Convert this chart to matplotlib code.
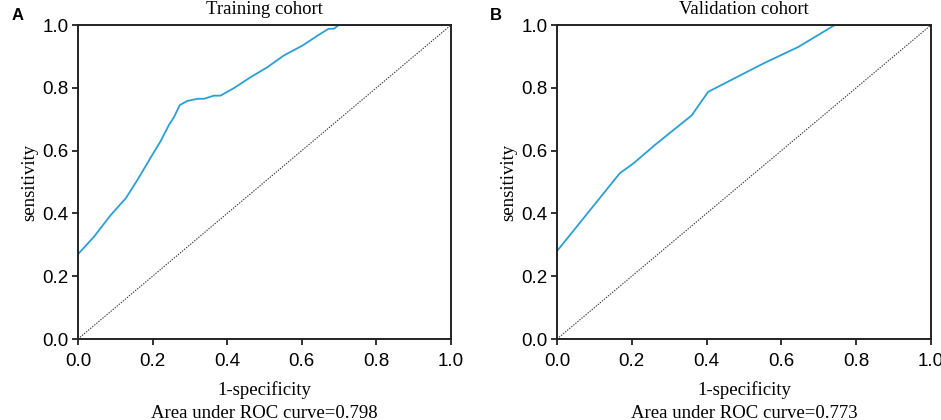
import numpy as np
import matplotlib
matplotlib.use("Agg")
import matplotlib.pyplot as plt

# ROC points
train_fpr = [0.0, 0.043, 0.088, 0.128, 0.159, 0.199, 0.221, 0.244, 0.257, 0.273,
             0.293, 0.320, 0.338, 0.364, 0.382, 0.418, 0.463, 0.507, 0.552, 0.601,
             0.650, 0.672, 0.686, 0.699, 1.0]
train_tpr = [0.27, 0.326, 0.395, 0.448, 0.506, 0.586, 0.629, 0.682, 0.706, 0.745,
             0.758, 0.765, 0.765, 0.775, 0.775, 0.799, 0.834, 0.865, 0.903, 0.934,
             0.972, 0.988, 0.988, 1.0, 1.0]

valid_fpr = [0.0, 0.168, 0.203, 0.266, 0.360, 0.404, 0.551, 0.645, 0.743, 1.0]
valid_tpr = [0.28, 0.528, 0.558, 0.622, 0.712, 0.787, 0.877, 0.930, 1.0, 1.0]

titles = ["Training cohort", "Validation cohort"]
panel_letters = ["A", "B"]
auc_values = [0.798, 0.773]
ticks = [0.0, 0.2, 0.4, 0.6, 0.8, 1.0]

serif = "Liberation Serif"
sans = "Liberation Sans"

W, H = 941, 420
fig = plt.figure(figsize=(W / 100, H / 100), dpi=100)
ax_a = fig.add_axes([78 / W, 1 - 339 / H, 373 / W, 314 / H])
ax_b = fig.add_axes([557 / W, 1 - 339 / H, 374 / W, 314 / H])

curves = [(train_fpr, train_tpr), (valid_fpr, valid_tpr)]
letter_x = [12, 490]

for i, ax in enumerate([ax_a, ax_b]):
    fpr, tpr = curves[i]
    ax.plot([0, 1], [0, 1], color="#333333", linestyle=(0, (1.2, 1.2)), linewidth=0.8)
    ax.plot(fpr, tpr, color="#2b9fd4", linewidth=1.3, zorder=2)
    ax.set_xlim(0, 1)
    ax.set_ylim(0, 1)
    ax.set_xticks(ticks)
    ax.set_yticks(ticks)
    ax.set_xticklabels([f"{t:.1f}" for t in ticks], fontfamily=sans, fontsize=13.5)
    ax.set_yticklabels([f"{t:.1f}" for t in ticks], fontfamily=sans, fontsize=13.5)
    ax.tick_params(direction="out", length=4, width=1.3, color="#222222", pad=3)
    ax.tick_params(axis="x", pad=6)
    for sp in ax.spines.values():
        sp.set_linewidth(1.4)
        sp.set_color("#222222")
        sp.set_zorder(3)
    ax.set_ylabel("sensitivity", fontfamily=serif, fontsize=13.5, labelpad=3)
    ax.set_xlabel("1-specificity", fontfamily=serif, fontsize=13.5, labelpad=8)

    box = ax.get_position()
    cx = (box.x0 + box.x1) / 2
    fig.text(cx, 1 - 10 / H, titles[i], fontfamily=serif, fontsize=13.5,
             ha="center", va="center")
    fig.text(cx, 1 - 413 / H, "Area under ROC curve=" + f"{auc_values[i]:.3f}",
             fontfamily=serif, fontsize=13.5, ha="center", va="center")
    fig.text(letter_x[i] / W, 1 - 16 / H, panel_letters[i], fontfamily=sans,
             fontweight="bold", fontsize=12, ha="left", va="center")

fig.savefig("out.png", dpi=100)
